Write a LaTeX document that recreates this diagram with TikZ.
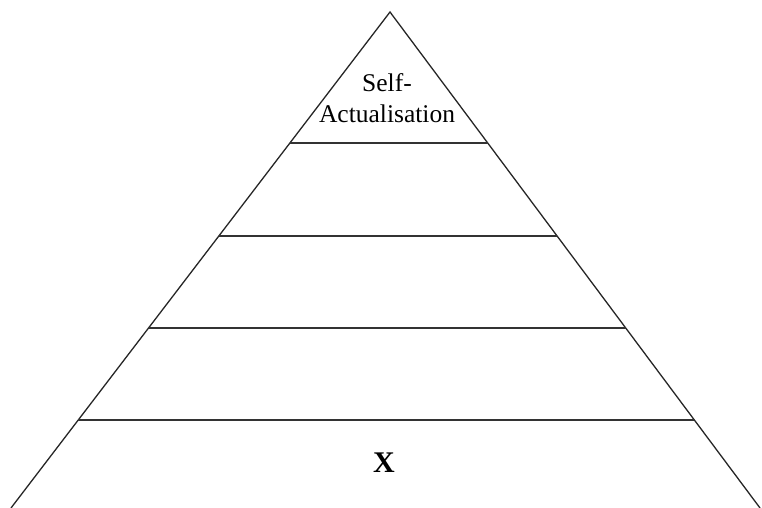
\documentclass[tikz,border=0pt]{standalone}
\usepackage{fontspec}
\setmainfont{Liberation Serif}
\begin{document}
\begin{tikzpicture}[x=1pt,y=-1pt,
  side/.style={line width=1.3pt,draw=black!85},
  level/.style={line width=2.2pt,draw=black!80},
  lbl/.style={inner sep=0pt,anchor=base,font=\fontsize{25.5}{28}\selectfont},
  xlbl/.style={inner sep=0pt,anchor=base,font=\fontsize{30}{34}\selectfont\bfseries}]
\useasboundingbox (0,0) rectangle (762,508);
\coordinate (apex) at (390,12);
\coordinate (bl) at (11,508);
\coordinate (br) at (760,508);
\draw[side] (bl) -- (apex) -- (br);
% level lines
\foreach \y/\n in {143/a,236/b,328/c,420/d}{
  \path (apex) -- (bl) coordinate[pos={(\y-12)/496}] (l\n);
  \path (apex) -- (br) coordinate[pos={(\y-12)/496}] (r\n);
  \draw[level] (l\n) -- (r\n);
}
\node[lbl] (self) at (387,92) {Self-};
\node[lbl] (act) at (387,122) {Actualisation};
\node[xlbl] (x) at (384,472) {X};
\end{tikzpicture}
\end{document}
